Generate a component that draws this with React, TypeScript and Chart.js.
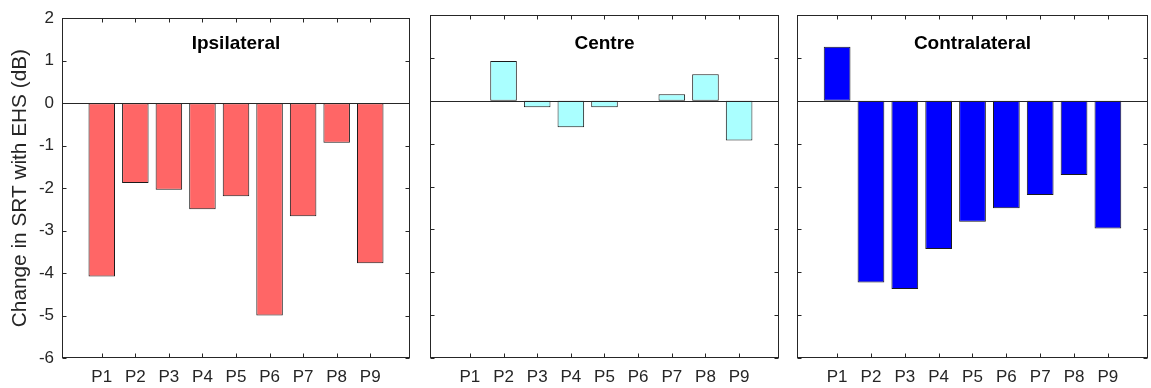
import React, { useEffect, useRef } from "react";
import { Chart, registerables } from "chart.js";

Chart.register(...registerables);

const participants = ["P1", "P2", "P3", "P4", "P5", "P6", "P7", "P8", "P9"];
const ipsilateral = [-4.08, -1.88, -2.04, -2.5, -2.19, -5.0, -2.66, -0.93, -3.77];
const centre = [0, 0.93, -0.15, -0.62, -0.15, 0, 0.15, 0.62, -0.93];
const contralateral = [1.26, -4.24, -4.39, -3.46, -2.82, -2.51, -2.2, -1.73, -2.98];
const yTicks = [-6, -5, -4, -3, -2, -1, 0, 1, 2];
const panelTitles = ["Ipsilateral", "Centre", "Contralateral"];
const panelColors = ["#FF6666", "#AAFFFF", "#0000FF"];
const yAxisTitle = "Change in SRT with EHS (dB)";

const X_MIN = -0.185;
const X_MAX = 10.185;
const FONT = "'Liberation Sans', Arial, Helvetica, sans-serif";
const AXIS_COLOR = "#262626";
const H = 388;

type PanelProps = {
  left: number;
  width: number;
  axisLeft: number;
  axisRight: number;
  title: string;
  color: string;
  values: number[];
  showY: boolean;
};

function Panel({ left, width, axisLeft, axisRight, title, color, values, showY }: PanelProps) {
  const ref = useRef<HTMLCanvasElement | null>(null);

  useEffect(() => {
    if (!ref.current) return;
    const framePlugin = {
      id: "frame",
      afterDatasetsDraw(chart: any) {
        const { ctx, chartArea } = chart;
        const xs = chart.scales.x;
        const ys = chart.scales.y;
        const l = Math.round(chartArea.left) + 0.5;
        const r = Math.round(chartArea.right) - 0.5;
        const t = Math.round(chartArea.top) + 0.5;
        const b = Math.round(chartArea.bottom) - 0.5;
        ctx.save();
        ctx.strokeStyle = AXIS_COLOR;
        ctx.lineWidth = 1;
        const y0 = Math.round(ys.getPixelForValue(0)) + 0.5;
        ctx.beginPath();
        ctx.moveTo(l, y0);
        ctx.lineTo(r, y0);
        ctx.stroke();
        ctx.strokeRect(l, t, r - l, b - t);
        const tl = 4;
        ctx.beginPath();
        participants.forEach((_, i) => {
          const px = Math.round(xs.getPixelForValue(i + 1)) + 0.5;
          ctx.moveTo(px, b);
          ctx.lineTo(px, b - tl);
          ctx.moveTo(px, t);
          ctx.lineTo(px, t + tl);
        });
        yTicks.forEach((v) => {
          const py = Math.round(ys.getPixelForValue(v)) + 0.5;
          ctx.moveTo(l, py);
          ctx.lineTo(l + tl, py);
          ctx.moveTo(r, py);
          ctx.lineTo(r - tl, py);
        });
        ctx.stroke();
        ctx.fillStyle = "#000000";
        ctx.font = `bold 19px ${FONT}`;
        ctx.textAlign = "center";
        ctx.textBaseline = "alphabetic";
        ctx.fillText(title, (chartArea.left + chartArea.right) / 2, 49);
        ctx.restore();
      },
    };

    const chart = new Chart(ref.current, {
      type: "bar",
      data: {
        datasets: [
          {
            data: values.map((v, i) => ({ x: i + 1, y: v })),
            backgroundColor: color,
            borderColor: "#1a1a1a",
            borderWidth: 1,
            borderSkipped: false,
            barPercentage: 0.79,
            categoryPercentage: 1,
          },
        ],
      },
      options: {
        responsive: false,
        animation: false,
        layout: { padding: { left: 0, right: width - axisRight, top: 15, bottom: 0 } },
        plugins: { legend: { display: false }, tooltip: { enabled: false }, title: { display: false } },
        scales: {
          x: {
            type: "linear",
            offset: false,
            min: X_MIN,
            max: X_MAX,
            grid: { display: false, drawTicks: false, offset: false },
            border: { display: false },
            afterBuildTicks: (s: any) => {
              s.ticks = participants.map((_, i) => ({ value: i + 1 }));
            },
            afterFit: (s: any) => {
              s.height = 30;
            },
            ticks: {
              autoSkip: false,
              maxRotation: 0,
              padding: 9,
              color: AXIS_COLOR,
              font: { family: FONT, size: 17 },
              callback: (v: any) => participants[Math.round(Number(v)) - 1] ?? "",
            },
          },
          y: {
            min: -6,
            max: 2,
            grid: { display: false, drawTicks: false },
            border: { display: false },
            afterBuildTicks: (s: any) => {
              s.ticks = yTicks.map((v) => ({ value: v }));
            },
            afterFit: (s: any) => {
              s.width = axisLeft;
            },
            ticks: {
              display: showY,
              padding: 8,
              color: AXIS_COLOR,
              font: { family: FONT, size: 17 },
            },
            title: {
              display: showY,
              text: yAxisTitle,
              color: AXIS_COLOR,
              font: { family: FONT, size: 20.8 },
              padding: { top: 8, bottom: 0 },
            },
          },
        },
      },
      plugins: [framePlugin],
    } as any);
    return () => chart.destroy();
  }, [left, width, axisLeft, axisRight, title, color, values, showY]);

  return (
    <canvas
      ref={ref}
      width={width}
      height={H}
      style={{ position: "absolute", left, top: 0, width, height: H }}
    />
  );
}

export default function App() {
  return (
    <div style={{ position: "absolute", left: 0, top: 0, width: 1151, height: H, background: "#ffffff" }}>
      <Panel left={0} width={420} axisLeft={62} axisRight={410} title={panelTitles[0]} color={panelColors[0]} values={ipsilateral} showY={true} />
      <Panel left={420} width={370} axisLeft={10} axisRight={359} title={panelTitles[1]} color={panelColors[1]} values={centre} showY={false} />
      <Panel left={787} width={364} axisLeft={10} axisRight={361} title={panelTitles[2]} color={panelColors[2]} values={contralateral} showY={false} />
    </div>
  );
}
